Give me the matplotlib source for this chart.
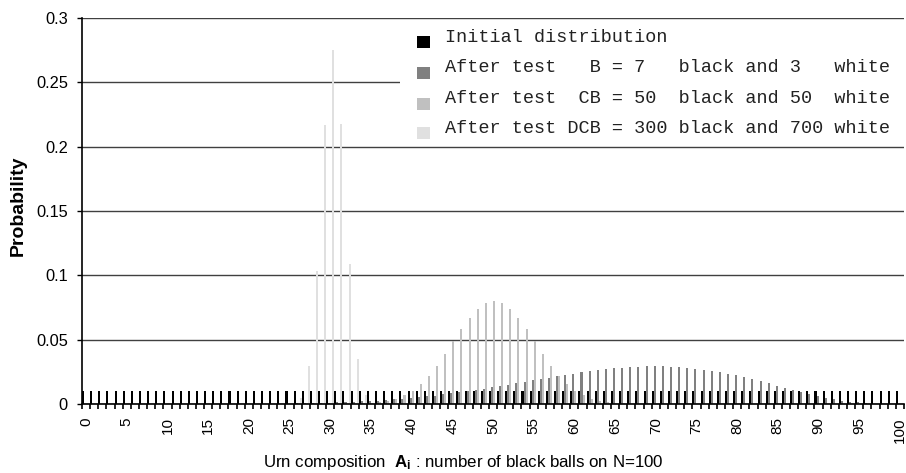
import matplotlib
matplotlib.use("Agg")
import matplotlib.pyplot as plt
from matplotlib.patches import Rectangle
import numpy as np

plt.rcParams['font.family'] = ['Liberation Sans', 'DejaVu Sans']
plt.rcParams['mathtext.fontset'] = 'custom'
plt.rcParams['mathtext.rm'] = 'Liberation Sans'
plt.rcParams['mathtext.bf'] = 'Liberation Sans:bold'

# --- Donnees ---
urn = np.arange(101)  # nombre de boules noires A_i

initial = [0.0099] * 101

after_b = [
    0, 0, 0, 0, 0, 0, 0, 0, 0, 0,
    0, 0, 0, 0, 0, 0, 0, 0, 0, 0.0001,
    0.0001, 0.0001, 0.0002, 0.0002, 0.0003, 0.0003, 0.0004, 0.0005, 0.0007, 0.0008,
    0.0010, 0.0012, 0.0014, 0.0017, 0.0020, 0.0023, 0.0027, 0.0031, 0.0036, 0.0041,
    0.0047, 0.0053, 0.0059, 0.0066, 0.0074, 0.0082, 0.0091, 0.0100, 0.0109, 0.0119,
    0.0129, 0.0139, 0.0150, 0.0161, 0.0172, 0.0183, 0.0194, 0.0205, 0.0216, 0.0226,
    0.0237, 0.0246, 0.0255, 0.0263, 0.0271, 0.0277, 0.0283, 0.0288, 0.0291, 0.0293,
    0.0294, 0.0293, 0.0291, 0.0287, 0.0282, 0.0275, 0.0267, 0.0258, 0.0247, 0.0235,
    0.0222, 0.0207, 0.0192, 0.0176, 0.0160, 0.0143, 0.0126, 0.0109, 0.0093, 0.0078,
    0.0063, 0.0050, 0.0038, 0.0027, 0.0019, 0.0012, 0.0006, 0.0003, 0.0001, 0,
    0,
]

after_cb = [
    0, 0, 0, 0, 0, 0, 0, 0, 0, 0,
    0, 0, 0, 0, 0, 0, 0, 0, 0, 0,
    0, 0, 0, 0, 0, 0, 0, 0, 0, 0,
    0, 0, 0.0001, 0.0002, 0.0004, 0.0007, 0.0014, 0.0024, 0.0041, 0.0067,
    0.0104, 0.0155, 0.0220, 0.0299, 0.0389, 0.0486, 0.0583, 0.0671, 0.0742, 0.0788,
    0.0804, 0.0788, 0.0742, 0.0671, 0.0583, 0.0486, 0.0389, 0.0299, 0.0220, 0.0155,
    0.0104, 0.0067, 0.0041, 0.0024, 0.0014, 0.0007, 0.0004, 0.0002, 0.0001, 0,
    0, 0, 0, 0, 0, 0, 0, 0, 0, 0,
    0, 0, 0, 0, 0, 0, 0, 0, 0, 0,
    0, 0, 0, 0, 0, 0, 0, 0, 0, 0,
    0,
]

after_dcb = [
    0, 0, 0, 0, 0, 0, 0, 0, 0, 0,
    0, 0, 0, 0, 0, 0, 0, 0, 0, 0,
    0, 0, 0, 0, 0, 0.0005, 0.0049, 0.0295, 0.1036, 0.2165,
    0.2755, 0.2178, 0.1087, 0.0348, 0.0072, 0.0010, 0.0001, 0, 0, 0,
    0, 0, 0, 0, 0, 0, 0, 0, 0, 0,
    0, 0, 0, 0, 0, 0, 0, 0, 0, 0,
    0, 0, 0, 0, 0, 0, 0, 0, 0, 0,
    0, 0, 0, 0, 0, 0, 0, 0, 0, 0,
    0, 0, 0, 0, 0, 0, 0, 0, 0, 0,
    0, 0, 0, 0, 0, 0, 0, 0, 0, 0,
    0,
]

series = [initial, after_b, after_cb, after_dcb]
colors = ['#000000', '#808080', '#c0c0c0', '#e0e0e0']
labels = [
    "Initial distribution",
    "After test   B = 7   black and 3   white",
    "After test  CB = 50  black and 50  white",
    "After test DCB = 300 black and 700 white",
]

# --- Figure ---
W, H = 906, 473
fig = plt.figure(figsize=(W / 100, H / 100), dpi=100)
ax = fig.add_axes([82 / W, (H - 404) / H, (904 - 82) / W, (404 - 18) / H])

bw = 0.25
for i, (vals, c) in enumerate(zip(series, colors)):
    ax.bar(urn - 0.5 + i * bw, vals, width=bw, align='edge', color=c,
           linewidth=0, zorder=2)

ax.set_xlim(-0.5, 100.5)
ax.set_ylim(0, 0.3)

# grille horizontale
ax.set_yticks(np.arange(0, 0.31, 0.05))
ax.set_yticklabels(['0', '0.05', '0.1', '0.15', '0.2', '0.25', '0.3'])
ax.yaxis.grid(True, color='#404040', linewidth=1.0)
ax.set_axisbelow(True)
ax.tick_params(axis='y', length=3.6, width=1, direction='out', pad=6.5,
               labelsize=11.8)

# graduations x : etiquettes tous les 5, traits entre categories
ax.set_xticks(urn[::5])
ax.set_xticklabels([str(v) for v in urn[::5]], rotation=90)
ax.set_xticks(np.append(urn - 0.5, 100.5), minor=True)
ax.tick_params(axis='x', which='major', length=0, pad=9.5, labelsize=11)
ax.tick_params(axis='x', which='minor', length=3.6, width=1.2, direction='out',
               color='#000000')

for s in ['top', 'right']:
    ax.spines[s].set_visible(False)
ax.spines['left'].set_linewidth(1.2)
ax.spines['bottom'].set_linewidth(1.2)
ax.spines['bottom'].set_zorder(3)

# legende dessinee a la main (fond blanc, pas de cadre)
fig.patches.append(Rectangle((400 / W, 1 - 146 / H), (W - 400) / W, (146 - 21) / H,
                             transform=fig.transFigure, facecolor='white',
                             edgecolor='none', zorder=5))
row_y = [37, 68, 98.5, 128.5]
for y, lab, c in zip(row_y, labels, colors):
    fig.patches.append(Rectangle((417 / W, 1 - (y + 11) / H), 13 / W, 12 / H,
                                 transform=fig.transFigure, facecolor=c,
                                 edgecolor='none', zorder=6))
    fig.text(445 / W, 1 - y / H, lab, family='Liberation Mono', fontsize=13.3,
             color='#222222', ha='left', va='center', zorder=7)

fig.text(18 / W, 1 - 206 / H, "Probability", rotation=90, fontsize=14,
         fontweight='bold', ha='center', va='center')
fig.text(463 / W, 1 - 462 / H,
         r"Urn composition  $\mathbf{A_i}$ : number of black balls on N=100",
         fontsize=12.2, ha='center', va='center')

fig.savefig("out.png", dpi=100)
